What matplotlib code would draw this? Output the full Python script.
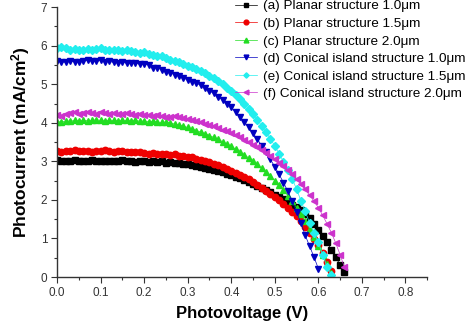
import numpy as np
import matplotlib
matplotlib.use("Agg")
import matplotlib.pyplot as plt
from matplotlib.ticker import MultipleLocator

plt.rcParams['font.family'] = ['Liberation Sans', 'DejaVu Sans']
plt.rcParams['mathtext.fontset'] = 'custom'
plt.rcParams['mathtext.rm'] = 'Liberation Sans'
plt.rcParams['mathtext.bf'] = 'Liberation Sans:bold'

# photovoltage steps (V)
volt = [round(0.01 * i, 2) for i in range(67)]

# photocurrent (mA/cm2)
planar_10 = [3.03, 3.00, 3.02, 3.01, 3.03, 3.00, 3.02, 3.01, 3.03, 3.00,
             3.02, 3.01, 3.00, 3.02, 3.01, 3.03, 3.00, 3.01, 2.99, 3.01,
             3.00, 2.99, 3.00, 2.98, 3.00, 2.97, 2.98, 2.96, 2.95, 2.93,
             2.92, 2.90, 2.88, 2.86, 2.84, 2.81, 2.78, 2.75, 2.72, 2.68,
             2.64, 2.60, 2.56, 2.51, 2.47, 2.42, 2.37, 2.32, 2.26, 2.20,
             2.14, 2.08, 2.02, 1.95, 1.88, 1.81, 1.73, 1.64, 1.52, 1.38,
             1.22, 1.06, 0.90, 0.71, 0.51, 0.32, 0.12]
planar_15 = [3.27, 3.25, 3.28, 3.27, 3.29, 3.26, 3.28, 3.27, 3.25, 3.28,
             3.27, 3.29, 3.26, 3.25, 3.27, 3.26, 3.24, 3.25, 3.23, 3.24,
             3.22, 3.20, 3.21, 3.19, 3.20, 3.18, 3.17, 3.18, 3.15, 3.14,
             3.12, 3.10, 3.07, 3.04, 3.01, 2.98, 2.94, 2.90, 2.86, 2.81,
             2.76, 2.71, 2.65, 2.59, 2.53, 2.46, 2.39, 2.32, 2.24, 2.16,
             2.08, 1.99, 1.90, 1.80, 1.69, 1.57, 1.44, 1.30, 1.15, 0.99,
             0.82, 0.62, 0.40, 0.16]
planar_20 = [4.03, 4.02, 4.05, 4.04, 4.06, 4.05, 4.07, 4.05, 4.06, 4.08,
             4.06, 4.05, 4.07, 4.06, 4.05, 4.07, 4.06, 4.05, 4.06, 4.04,
             4.05, 4.03, 4.04, 4.02, 4.01, 4.02, 3.99, 3.97, 3.94, 3.91,
             3.88, 3.84, 3.80, 3.76, 3.72, 3.67, 3.62, 3.57, 3.51, 3.45,
             3.39, 3.32, 3.25, 3.17, 3.09, 3.01, 2.92, 2.82, 2.72, 2.61,
             2.50, 2.38, 2.25, 2.11, 1.96, 1.80, 1.63, 1.44, 1.24, 1.03,
             0.81, 0.58, 0.34, 0.10]
conical_10 = [5.60, 5.58, 5.57, 5.60, 5.58, 5.57, 5.60, 5.62, 5.60, 5.59,
              5.62, 5.58, 5.59, 5.57, 5.56, 5.57, 5.55, 5.54, 5.55, 5.52,
              5.53, 5.50, 5.42, 5.43, 5.38, 5.33, 5.30, 5.25, 5.21, 5.16,
              5.12, 5.07, 5.03, 4.97, 4.90, 4.83, 4.76, 4.68, 4.59, 4.50,
              4.40, 4.28, 4.16, 4.02, 3.88, 3.73, 3.57, 3.41, 3.23, 3.05,
              2.86, 2.66, 2.45, 2.22, 1.97, 1.69, 1.40, 1.08, 0.80, 0.52,
              0.22]
conical_15 = [5.95, 5.97, 5.93, 5.90, 5.92, 5.90, 5.89, 5.92, 5.90, 5.91,
              5.93, 5.89, 5.88, 5.90, 5.88, 5.87, 5.89, 5.86, 5.84, 5.80,
              5.83, 5.78, 5.76, 5.72, 5.74, 5.68, 5.64, 5.60, 5.57, 5.53,
              5.48, 5.44, 5.39, 5.34, 5.28, 5.22, 5.15, 5.08, 5.00, 4.91,
              4.82, 4.72, 4.61, 4.49, 4.36, 4.22, 4.08, 3.92, 3.76, 3.58,
              3.40, 3.20, 2.99, 2.77, 2.55, 2.28, 1.98, 1.70, 1.40, 1.15,
              0.90, 0.58, 0.26, 0.05]
conical_20 = [4.20, 4.18, 4.22, 4.25, 4.27, 4.24, 4.26, 4.28, 4.25, 4.24,
              4.27, 4.26, 4.24, 4.25, 4.23, 4.22, 4.25, 4.23, 4.21, 4.22,
              4.20, 4.21, 4.18, 4.20, 4.17, 4.15, 4.16, 4.18, 4.15, 4.12,
              4.10, 4.08, 4.05, 4.02, 3.98, 3.95, 3.91, 3.87, 3.82, 3.78,
              3.73, 3.68, 3.62, 3.56, 3.50, 3.43, 3.36, 3.29, 3.21, 3.13,
              3.05, 2.96, 2.87, 2.77, 2.66, 2.54, 2.41, 2.27, 2.12, 1.97,
              1.80, 1.60, 1.38, 1.15, 0.88, 0.58, 0.25]

series = [
    (planar_10, '(a) Planar structure 1.0\u03bcm', 'black', 's'),
    (planar_15, '(b) Planar structure 1.5\u03bcm', '#ee0000', 'o'),
    (planar_20, '(c) Planar structure 2.0\u03bcm', '#22dd22', '^'),
    (conical_10, '(d) Conical island structure 1.0\u03bcm', '#0000c0', 'v'),
    (conical_15, '(e) Conical island structure 1.5\u03bcm', '#22eeee', 'D'),
    (conical_20, '(f) Conical island structure 2.0\u03bcm', '#cc33cc', '<'),
]

fig = plt.figure(figsize=(4.72, 3.24), dpi=100)
ax = fig.add_axes([0.121, 0.145, 0.784, 0.833])

for vals, label, col, mk in series:
    ms = 3.6 if mk == 'D' else (3.8 if mk in 's' else 4.6)
    ax.plot(volt[:len(vals)], vals, color=col, lw=0.5, marker=mk, ms=ms,
            mec=col, mfc=col, label=label)

ax.set_xlim(0, 0.85)
ax.set_ylim(0, 7)
ax.xaxis.set_major_locator(MultipleLocator(0.1))
ax.xaxis.set_minor_locator(MultipleLocator(0.05))
ax.yaxis.set_major_locator(MultipleLocator(1))
ax.yaxis.set_minor_locator(MultipleLocator(0.5))
ax.set_xticks([0, 0.1, 0.2, 0.3, 0.4, 0.5, 0.6, 0.7, 0.8])
ax.set_xticklabels(['0.0', '0.1', '0.2', '0.3', '0.4', '0.5', '0.6', '0.7', '0.8'])
ax.tick_params(which='major', direction='out', length=4, width=0.8,
               labelsize=8.5, colors='#333333', pad=3)
ax.tick_params(which='minor', direction='out', length=2.5, width=0.8, colors='#333333')
for s in ['top', 'right']:
    ax.spines[s].set_visible(False)
for s in ['left', 'bottom']:
    ax.spines[s].set_color('#333333')
    ax.spines[s].set_linewidth(1.0)

ax.set_xlabel('Photovoltage (V)', fontsize=12, fontweight='bold', labelpad=5)
ax.set_ylabel(r'Photocurrent (mA/cm$\mathbf{^2}$)', fontsize=12.5, fontweight='bold', labelpad=6)

fig.legend(loc='upper left', bbox_to_anchor=(0.497, 1.0), frameon=False,
           fontsize=9.7, handlelength=1.7, handletextpad=0.4, labelspacing=0.38,
           markerscale=0.75, borderpad=0, borderaxespad=0)

fig.savefig('out.png', dpi=100)
